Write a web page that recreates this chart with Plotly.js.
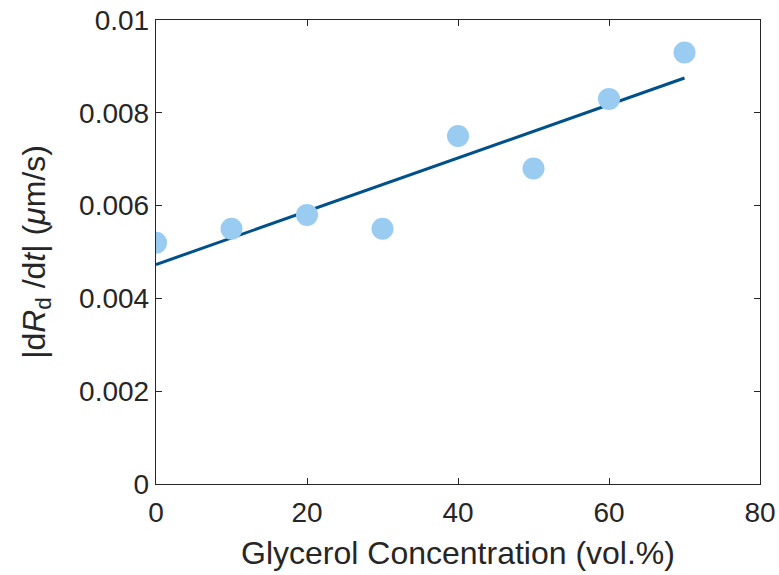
<!DOCTYPE html>
<html>
<head>
<meta charset="utf-8">
<script src="https://cdn.plot.ly/plotly-3.0.1.min.js"></script>
<style>html,body{margin:0;padding:0;background:#fff;}#chart{width:779px;height:575px;}</style>
</head>
<body>
<div id="chart"></div>
<script>
const glycerol = [0, 10, 20, 30, 40, 50, 60, 70];
const rate = [0.0052, 0.0055, 0.0058, 0.0055, 0.0075, 0.0068, 0.0083, 0.0093];
const fitX = [0, 70];
const fitY = [0.00473, 0.00875];
const xTicks = [0, 20, 40, 60, 80];
const yTicks = [0, 0.002, 0.004, 0.006, 0.008, 0.01];
const yTickText = ['0', '0.002', '0.004', '0.006', '0.008', '0.01'];

const fam = 'Liberation Sans, Arial, sans-serif';
const ink = '#262626';

const traces = [
  {x: fitX, y: fitY, mode: 'lines', line: {color: '#00508A', width: 3}, hoverinfo: 'skip'},
  {x: glycerol, y: rate, mode: 'markers', marker: {color: '#99CCF0', size: 22, line: {width: 0}}}
];

const layout = {
  width: 779, height: 575,
  margin: {l: 156, r: 19, t: 20, b: 91},
  paper_bgcolor: '#fff', plot_bgcolor: '#fff',
  showlegend: false,
  font: {family: fam, color: ink},
  xaxis: {
    range: [0, 80], tickvals: xTicks, ticktext: xTicks.map(String),
    ticks: 'inside', ticklen: 6, tickwidth: 1, tickcolor: ink,
    showline: true, linecolor: ink, linewidth: 1.2, mirror: 'ticks',
    showgrid: false, zeroline: false, automargin: false,
    tickfont: {size: 28, family: fam, color: ink},
    ticklabelstandoff: 3,
    title: {text: 'Glycerol Concentration (vol.%)', font: {size: 32, family: fam, color: ink}, standoff: 14}
  },
  yaxis: {
    range: [0, 0.01], tickvals: yTicks, ticktext: yTickText,
    ticks: 'inside', ticklen: 6, tickwidth: 1, tickcolor: ink,
    showline: true, linecolor: ink, linewidth: 1.2, mirror: 'ticks',
    showgrid: false, zeroline: false, automargin: false,
    tickfont: {size: 28, family: fam, color: ink},
    title: {text: '|d<i>R</i><sub>d</sub> /d<i>t</i>| (<i>μ</i>m/s)', font: {size: 32, family: fam, color: ink}, standoff: 24}
  }
};

Plotly.newPlot('chart', traces, layout, {displayModeBar: false, staticPlot: true});
</script>
</body>
</html>
